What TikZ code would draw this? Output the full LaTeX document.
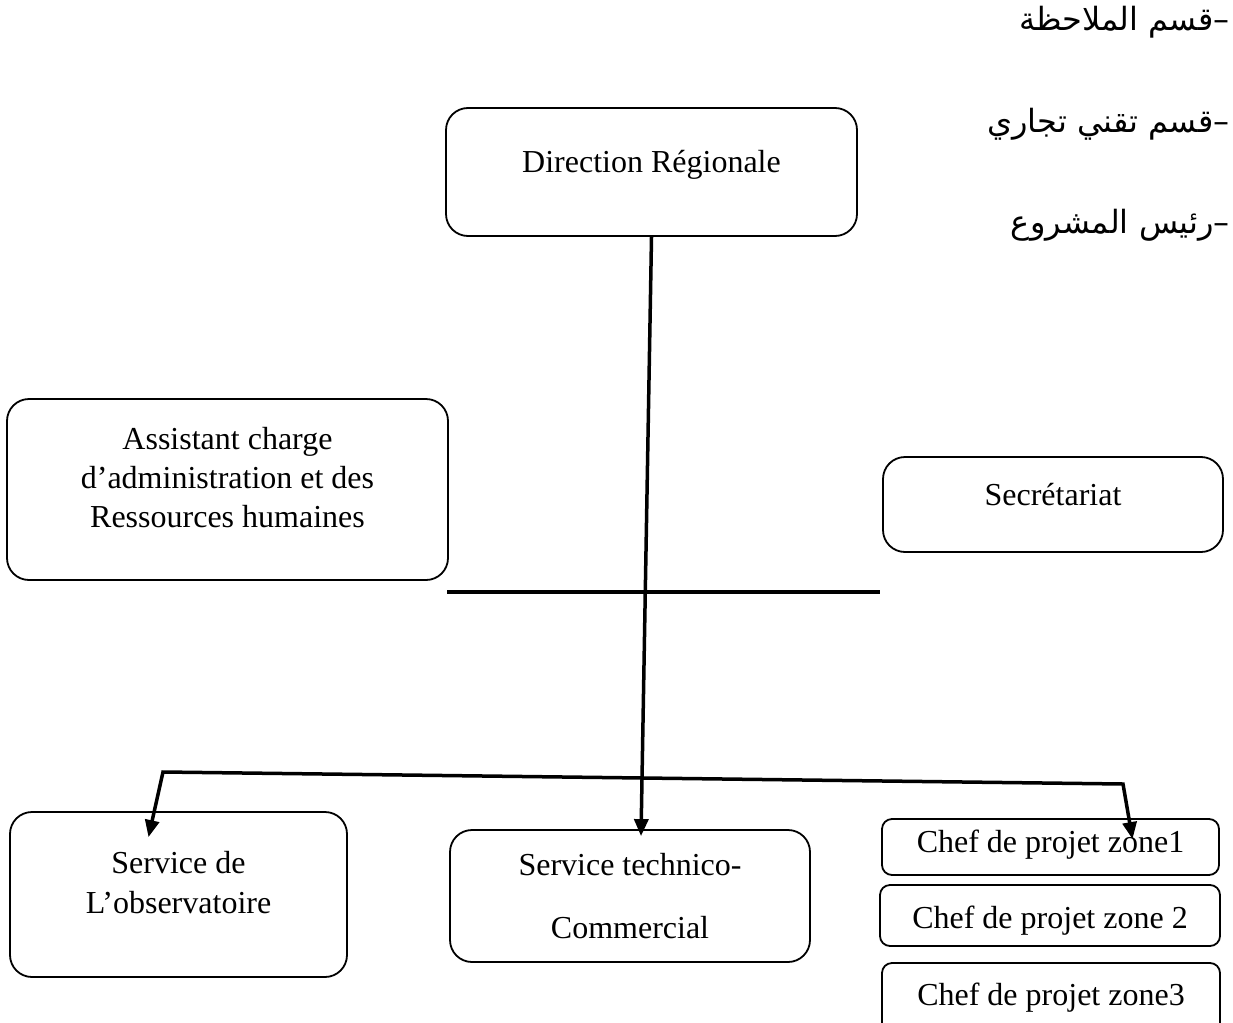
\documentclass[tikz,border=0pt]{standalone}
\usepackage{fontspec}
\setmainfont{Liberation Serif}
\newfontfamily\arabicfont[Script=Arabic]{DejaVu Sans}
\TeXXeTstate=1
\usetikzlibrary{arrows.meta}

\begin{document}
\begin{tikzpicture}[x = 1pt, y = -1pt,
    every node/.style = {inner sep = 0pt, font = \fontsize{32}{39}\selectfont},
    box/.style = {draw, line width = 1.8pt, rounded corners = 22pt, align = center, anchor = base},
    zonebox/.style = {box, rounded corners = 10pt},
    ar/.style = {anchor = base east, font = \fontsize{32}{38}\selectfont\arabicfont},
    link/.style = {line width = 3.5pt},
    tip/.style = {-{Triangle[length = 17pt, width = 14pt]}},
    tips/.style = {{Triangle[length = 17pt, width = 14pt]}-{Triangle[length = 17pt, width = 14pt]}}]
\useasboundingbox (0,0) rectangle (1233,1022);

% arabic notes, top right
\node[ar] (ar1) at (1230,31) {\beginR–قسم الملاحظة\endR};
\node[ar] (ar2) at (1230,132) {\beginR–قسم تقني تجاري\endR};
\node[ar] (ar3) at (1230,233) {\beginR–رئيس المشروع\endR};

\node[box, minimum width = 411pt, text height = 64pt, text depth = 64pt] (dir) at (651.5,172) {Direction Régionale};
\node[box, minimum width = 441pt, text height = 128pt, text depth = 53pt] (asst) at (227.5,527)
    {Assistant charge\\d’administration et des\\Ressources humaines};
\node[box, minimum width = 340pt, text height = 48pt, text depth = 47pt] (secr) at (1053,505) {Secrétariat};

\node[box, minimum width = 337pt, text height = 101pt, text depth = 64pt] (obs) at (178.5,913)
    {Service de\\[1pt]L’observatoire};
\node[box, minimum width = 360pt, text height = 108pt, text depth = 24pt] (tech) at (630,938)
    {Service technico-\\[24pt]Commercial};
\node[zonebox, minimum width = 337pt, text height = 33pt, text depth = 23pt] (zone1) at (1050.5,852) {Chef de projet zone1};
\node[zonebox, minimum width = 340pt, text height = 43pt, text depth = 18pt] (zone2) at (1050,928) {Chef de projet zone 2};
\node[zonebox, minimum width = 338pt, text height = 42pt, text depth = 30pt] (zone3) at (1051,1005) {Chef de projet zone3};

\coordinate (barL) at (447,592);
\coordinate (barR) at (880,592);
\coordinate (brL) at (163,772);
\coordinate (brR) at (1123,784);

\draw[link] (barL) -- (barR);
\draw[link, tip] (dir.south) -- ([xshift = 11pt, yshift = -7pt] tech.north);
\draw[link, tips] ([xshift = -30pt, yshift = -26pt] obs.north) -- (brL) -- (brR)
    -- ([xshift = 82pt, yshift = -21pt] zone1.north);
\end{tikzpicture}
\end{document}
